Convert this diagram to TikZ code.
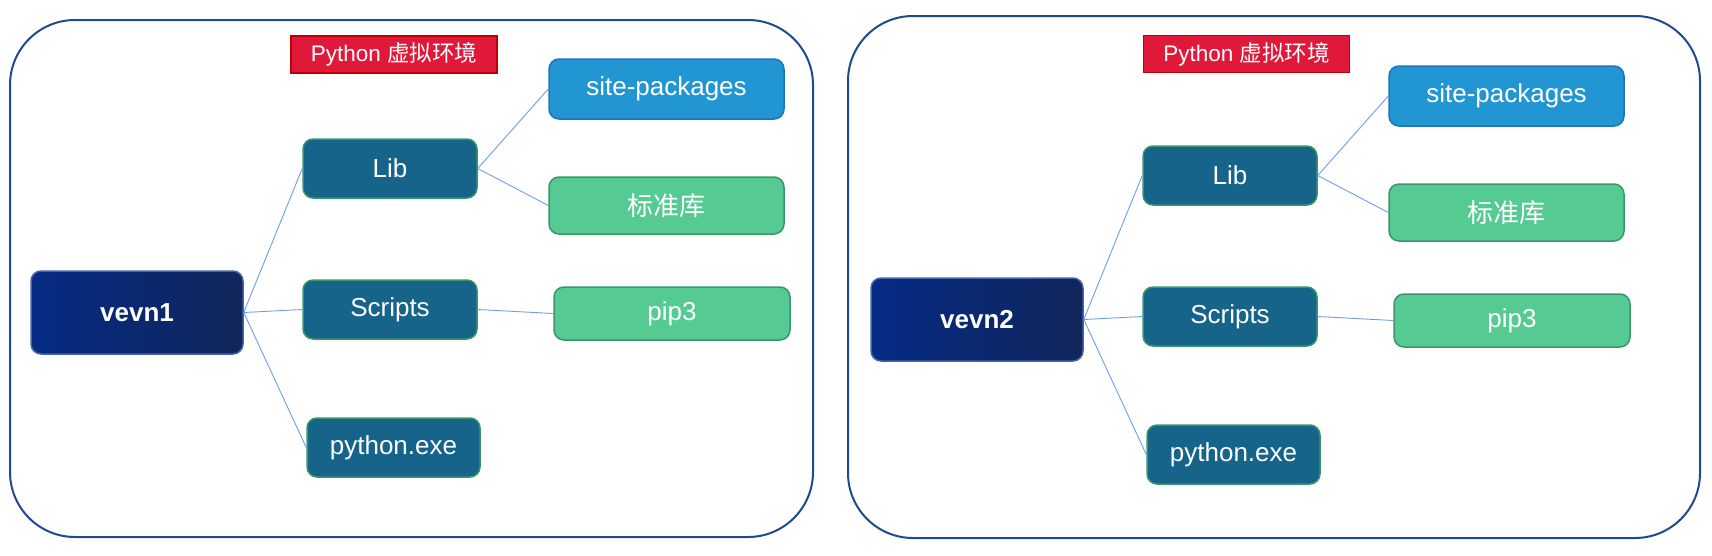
\documentclass[tikz,border=0pt]{standalone}
\usepackage{fontspec}
\setmainfont{Liberation Sans}
\newfontfamily\cjk{Noto Sans CJK SC}
\definecolor{outerc}{RGB}{31,73,145}
\definecolor{labfill}{RGB}{224,25,58}
\definecolor{labdraw}{RGB}{192,0,0}
\definecolor{sitefill}{RGB}{33,150,210}
\definecolor{sitedraw}{RGB}{27,117,187}
\definecolor{greenfill}{RGB}{85,202,147}
\definecolor{greendraw}{RGB}{58,150,105}
\definecolor{tealfill}{RGB}{22,100,137}
\definecolor{vleft}{RGB}{5,43,133}
\definecolor{vright}{RGB}{17,38,90}
\definecolor{vdraw}{RGB}{70,100,170}
\definecolor{linkc}{RGB}{109,158,235}
\begin{document}
\begin{tikzpicture}[x=1pt,y=-1pt,
  basebox/.style={rounded corners=10pt, line width=1.5pt, text=white,
    font=\fontsize{26}{31}\selectfont, inner sep=0pt, anchor=center},
  tealbox/.style={basebox, fill=tealfill, draw=greendraw,
    minimum width=174pt, minimum height=59pt},
  greenbox/.style={basebox, fill=greenfill, draw=greendraw,
    minimum width=235pt, minimum height=56pt},
  sitebox/.style={basebox, fill=sitefill, draw=sitedraw,
    minimum width=235pt, minimum height=60pt},
  rootbox/.style={basebox, left color=vleft, right color=vright, draw=vdraw,
    minimum width=212pt, minimum height=83pt, font=\fontsize{26}{31}\selectfont\bfseries},
  labelbox/.style={fill=labfill, draw=labdraw, line width=1.5pt, text=white,
    font=\fontsize{22.5}{27}\selectfont, inner sep=0pt,
    minimum width=206pt, minimum height=37pt, anchor=center},
  panel/.style={draw=outerc, line width=2pt, rounded corners=65pt},
  link/.style={draw=linkc, line width=0.9pt}
]
\useasboundingbox (0,0) rectangle (1712,555);
\draw[panel] (10,20) rectangle (813,537);
\draw[panel] (848,16) rectangle (1700,538);
\node[labelbox] (L-lab) at (394,54.5) {Python {\cjk 虚拟环境}};
\node[labelbox] (R-lab) at (1246.5,54) {Python {\cjk 虚拟环境}};
\foreach \p/\dx/\dy/\name in {L/0/0/vevn1, R/840/7/vevn2}{
  \begin{scope}[shift={(\dx,\dy)}]
    \node[rootbox] (\p-root) at (137,312.5) {\name};
    \node[tealbox] (\p-lib) at (390,168.5) {Lib};
    \node[tealbox] (\p-scr) at (390,309.5) {Scripts};
    \node[tealbox, minimum width=173pt] (\p-exe) at (393.5,447.5) {python.exe};
    \node[sitebox] (\p-site) at (666.5,89) {site-packages};
    \node[greenbox, minimum height=57pt] (\p-std) at (666.5,205.5) {{\cjk 标准库}};
    \node[greenbox, minimum width=236pt, minimum height=53pt] (\p-pip) at (672,313.5) {pip3};
  \end{scope}
  \draw[link] (\p-root.east) -- (\p-lib.west);
  \draw[link] (\p-root.east) -- (\p-scr.west);
  \draw[link] (\p-root.east) -- (\p-exe.west);
  \draw[link] (\p-lib.east) -- (\p-site.west);
  \draw[link] (\p-lib.east) -- (\p-std.west);
  \draw[link] (\p-scr.east) -- (\p-pip.west);
}
\end{tikzpicture}
\end{document}
